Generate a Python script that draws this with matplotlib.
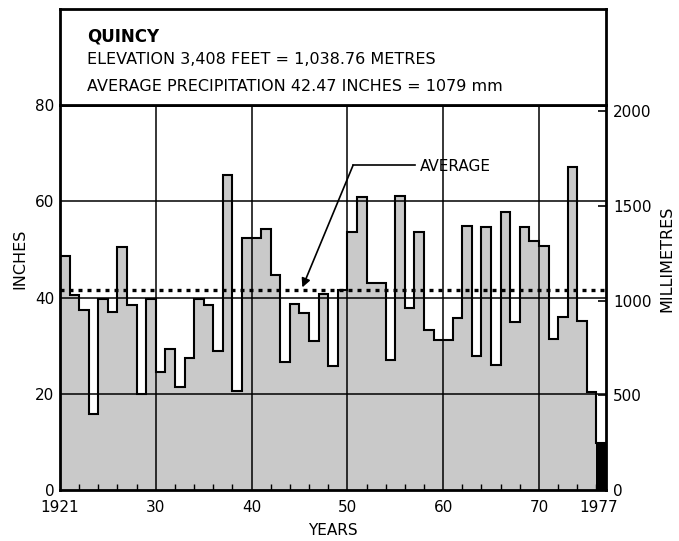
import matplotlib
matplotlib.use("Agg")
import matplotlib.pyplot as plt
import numpy as np

plt.rcParams['font.family'] = ['DejaVu Sans']

# ---------------- data ----------------
years = list(range(1921, 1978))
precip_in = [48.6, 40.6, 37.4, 15.7, 39.7, 36.9, 50.5, 38.5, 19.9, 39.7,
             24.5, 29.4, 21.5, 27.4, 39.7, 38.5, 28.9, 65.5, 20.6, 52.4,
             52.4, 54.3, 44.6, 26.6, 38.6, 36.7, 31.0, 40.7, 25.7, 41.5,
             53.7, 60.8, 43.0, 43.0, 27.1, 61.0, 37.9, 53.6, 33.2, 31.1,
             31.1, 35.7, 54.9, 27.8, 54.7, 26.0, 57.7, 35.0, 54.7, 51.7,
             50.7, 31.3, 36.0, 67.1, 35.2, 20.3, 9.8]
partial_year = 1977
avg_line_in = 41.5
left_ticks = [0, 20, 40, 60, 80]
mm_ticks = [0, 500, 1000, 1500, 2000]
decade_ticks = [1930, 1940, 1950, 1960, 1970]
decade_labels = ['30', '40', '50', '60', '70']
end_labels = ['1921', '1977']
title_lines = ['QUINCY',
               'ELEVATION 3,408 FEET = 1,038.76 METRES',
               'AVERAGE PRECIPITATION 42.47 INCHES = 1079 mm']

# ---------------- figure ----------------
W, H = 679, 541
fig = plt.figure(figsize=(W / 100, H / 100), dpi=100)

L, R, B, T = 60 / W, 606 / W, 1 - 490 / H, 1 - 105 / H
ax = fig.add_axes([L, B, R - L, T - B])
tax = fig.add_axes([L, T, R - L, (1 - 9 / H) - T])

edges = np.array([years[0] - 1] + years, dtype=float)
vals = np.array(precip_in)

# regular years (gray) – last partial year drawn black
n_full = years.index(partial_year)
ax.stairs(vals[:n_full], edges[:n_full + 1], fill=True, color='#c9c9c9',
          zorder=1)
ax.stairs(vals[n_full:], edges[n_full:], fill=True, color='black', zorder=1)
ax.stairs(vals, edges, baseline=None, color='black', lw=1.5, zorder=3)

ax.set_xlim(edges[0], edges[-1])
ax.set_ylim(0, 80)

# grid
for xg in decade_ticks:
    ax.axvline(xg, color='black', lw=1.1, zorder=2)
for yg in left_ticks[1:-1]:
    ax.axhline(yg, color='black', lw=1.1, zorder=2)

# average dotted line
ax.axhline(avg_line_in, color='black', lw=2.4, linestyle=(0, (1.2, 1.5)),
           zorder=4)

# AVERAGE annotation
txt_x, txt_y = 1957.6, 67.3
corner_x = 1950.6
ax.plot([corner_x, txt_x - 0.5], [txt_y + 0.2, txt_y + 0.2], color='black',
        lw=1.2, zorder=5)
ax.annotate('', xy=(1945.3, avg_line_in + 0.6), xytext=(corner_x, txt_y + 0.2),
            arrowprops=dict(arrowstyle='-|>', color='black', lw=1.2,
                            mutation_scale=13, shrinkA=0, shrinkB=0),
            zorder=5)
ax.text(txt_x, txt_y, 'AVERAGE', fontsize=11, va='center', ha='left',
        zorder=5)

# x ticks
ax.set_xticks([edges[0]] + decade_ticks + [edges[-1] - 0.8])
ax.set_xticklabels([end_labels[0]] + decade_labels + [end_labels[1]],
                   fontsize=11)
ax.tick_params(axis='x', which='major', length=0, pad=7)
minor = [y for y in range(years[0] + 1, years[-1], 2) if y % 10 != 0]
ax.set_xticks(minor, minor=True)
ax.tick_params(axis='x', which='minor', direction='in', length=4, width=1.0)

# left y
ax.set_yticks(left_ticks)
ax.set_yticklabels([str(v) for v in left_ticks], fontsize=11)
ax.tick_params(axis='y', length=0, pad=4)
ax.set_ylabel('INCHES', fontsize=11.5)
ax.yaxis.set_label_coords(-0.060, 0.60)
ax.set_xlabel('YEARS', fontsize=11, labelpad=6)

for s in ax.spines.values():
    s.set_linewidth(2.0)

# right y (millimetres)
ax2 = ax.twinx()
ax2.set_ylim(0, 80 * 25.4)
ax2.set_yticks(mm_ticks)
ax2.set_yticklabels([str(v) for v in mm_ticks], fontsize=11)
ax2.tick_params(axis='y', direction='in', length=6, width=1.2, pad=5)
ax2.set_ylabel('MILLIMETRES', fontsize=11.5)
ax2.yaxis.set_label_coords(1.098, 0.60)
for s in ax2.spines.values():
    s.set_visible(False)

# title box
tax.set_xticks([])
tax.set_yticks([])
for s in tax.spines.values():
    s.set_linewidth(2.0)
tax.text(0.049, 0.71, title_lines[0], fontsize=12, fontweight='bold',
         va='center', ha='left', transform=tax.transAxes)
tax.text(0.049, 0.47, title_lines[1], fontsize=11.5, va='center', ha='left',
         transform=tax.transAxes)
tax.text(0.049, 0.19, title_lines[2], fontsize=11.5, va='center', ha='left',
         transform=tax.transAxes)

fig.savefig('out.png', dpi=100)
